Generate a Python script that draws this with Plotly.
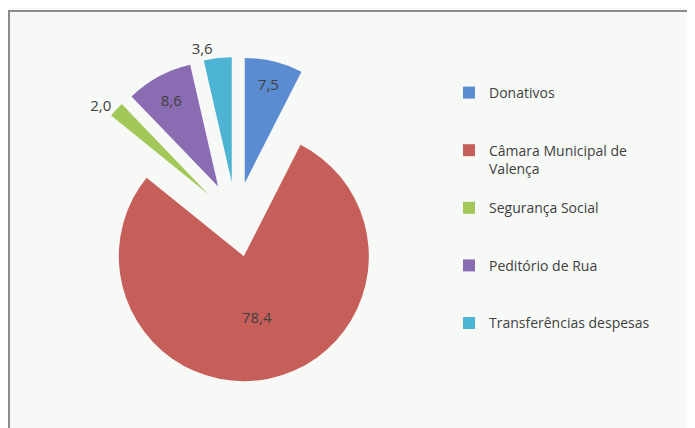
import plotly.graph_objects as go

# Receitas (%)
labels = ["Donativos", "Câmara Municipal de<br>Valença", "Segurança Social",
          "Peditório de Rua", "Transferências despesas"]
values = [7.5, 78.4, 2.0, 8.6, 3.6]
colors = ["#5b8bd0", "#c65e5a", "#a3c85a", "#8a6cb2", "#4db5d3"]
text_pos = ["inside", "inside", "outside", "inside", "outside"]

# pad every legend entry to three lines so the items are spread out
legend_names = []
for name in labels:
    n_lines = name.count("<br>") + 1
    legend_names.append(name + "<br> " * (3 - n_lines))

W, H = 695, 428

fig = go.Figure(go.Pie(
    labels=legend_names,
    values=values,
    sort=False,
    direction="clockwise",
    rotation=0,
    pull=0.3,
    marker=dict(colors=colors, line=dict(width=0)),
    texttemplate="%{value:.1f}",
    textposition=text_pos,
    insidetextorientation="horizontal",
    textfont=dict(family="Open Sans", size=15, color="#404040"),
    domain=dict(x=[65.5 / W, 390.5 / W], y=[54 / H, 379 / H]),
))

# chart frame (right and bottom edges fall outside the picture)
fig.add_shape(type="rect", xref="paper", yref="paper",
              x0=1 / W, x1=1.05, y0=-0.05, y1=(H - 3) / H,
              line=dict(color="#8c8c8c", width=2))

fig.update_layout(
    width=W, height=H,
    margin=dict(l=0, r=0, t=0, b=0, autoexpand=False),
    paper_bgcolor="#f7f9f7",
    plot_bgcolor="#f7f9f7",
    separators=", ",
    showlegend=True,
    font=dict(family="Open Sans", color="#404040"),
    legend=dict(x=441 / W, xanchor="left", y=(H - 69) / H, yanchor="top",
                valign="top", font=dict(family="Open Sans", size=14, color="#404040"),
                bgcolor="rgba(0,0,0,0)"),
)

fig.write_html("out.html")
